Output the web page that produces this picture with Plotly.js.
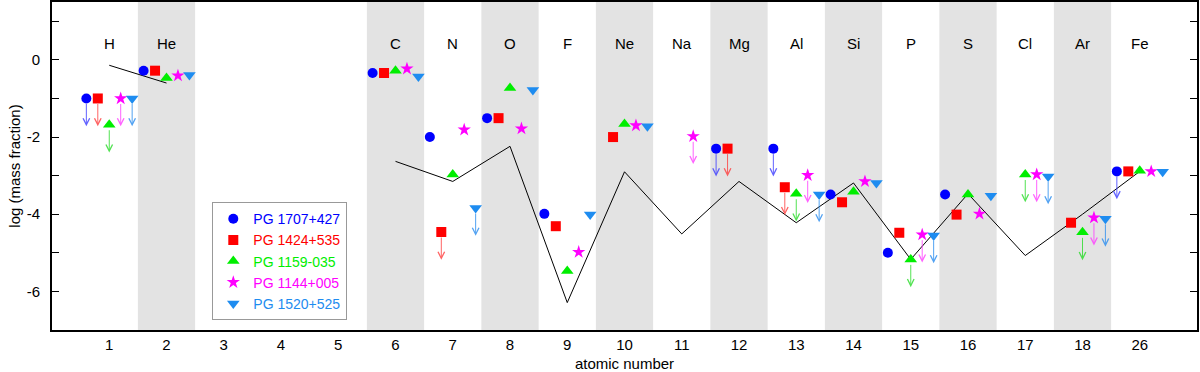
<!DOCTYPE html>
<html>
<head>
<meta charset="utf-8">
<script src="https://cdn.plot.ly/plotly-3.0.1.min.js"></script>
<style>
  body { margin: 0; background: #fff; }
  #chart { width: 1200px; height: 372px; }
</style>
</head>
<body>
<div id="chart"></div>
<script>
// Categories along the x axis
const atomicNumbers = [1, 2, 3, 4, 5, 6, 7, 8, 9, 10, 11, 12, 13, 14, 15, 16, 17, 18, 26];
const elements = ['H', 'He', '', '', '', 'C', 'N', 'O', 'F', 'Ne', 'Na', 'Mg', 'Al', 'Si', 'P', 'S', 'Cl', 'Ar', 'Fe'];
const shadedElements = ['He', 'C', 'O', 'Ne', 'Mg', 'Si', 'S', 'Ar'];

// log mass fractions, one value per category (null = not measured)
const pg1707 = [-1.0, -0.28, null, null, null, -0.34, -2.0, -1.51, -3.99, null, null, -2.3, -2.3, -3.49, -5.0, -3.49, null, null, -2.89];
const pg1424 = [-1.0, -0.28, null, null, null, -0.34, -4.46, -1.51, -4.31, -2.0, null, -2.3, -3.3, -3.69, -4.48, -4.01, null, -4.22, -2.89];
const pg1159 = [-1.68, -0.47, null, null, null, -0.28, -2.97, -0.73, -5.47, -1.66, null, null, -3.47, -3.42, -5.17, -3.49, -2.97, -4.47, -2.87];
const pg1144 = [-1.0, -0.41, null, null, null, -0.23, -1.81, -1.78, -4.98, -1.7, -1.98, null, -2.99, -3.15, -4.53, -3.99, -2.97, -4.09, -2.89];
const pg1520 = [-1.0, -0.39, null, null, null, -0.43, -3.84, -0.78, -4.01, -1.72, null, null, -3.49, -3.19, -4.55, -3.52, -3.02, -4.12, -2.9];

// elements where the value is only an upper limit
const pg1707Limits = ['H', 'Mg', 'Al', 'Fe'];
const pg1424Limits = ['H', 'N', 'Mg', 'Al'];
const pg1159Limits = ['H', 'Al', 'P', 'Cl', 'Ar'];
const pg1144Limits = ['H', 'Na', 'Al', 'P', 'Cl', 'Ar'];
const pg1520Limits = ['H', 'N', 'Al', 'P', 'Cl', 'Ar'];

// model abundances (black line)
const model = [-0.14, -0.6, null, null, null, -2.63, -3.15, -2.24, -6.29, -2.9, -4.51, -3.15, -4.22, -3.19, -5.17, -3.47, -5.07, -4.0, -2.89];

const ARROW_LEN = 0.72;
const FONT = 'Liberation Sans, Arial, Helvetica, sans-serif';
const xPos = atomicNumbers.map((z, i) => i + 1);

const series = [
    { name: 'PG 1707+427', values: pg1707, limits: pg1707Limits, symbol: 'circle', color: '#0000ff', arrow: 'rgba(60,60,255,0.8)', offset: -0.4, size: 10 },
    { name: 'PG 1424+535', values: pg1424, limits: pg1424Limits, symbol: 'square', color: '#ff0000', arrow: 'rgba(255,60,60,0.8)', offset: -0.2, size: 10 },
    { name: 'PG 1159-035', values: pg1159, limits: pg1159Limits, symbol: 'triangle-up', color: '#00ee00', arrow: 'rgba(40,220,40,0.8)', offset: 0, size: 11 },
    { name: 'PG 1144+005', values: pg1144, limits: pg1144Limits, symbol: 'star', color: '#ff00ff', arrow: 'rgba(255,60,255,0.8)', offset: 0.2, size: 10 },
    { name: 'PG 1520+525', values: pg1520, limits: pg1520Limits, symbol: 'triangle-down', color: '#1e8cf0', arrow: 'rgba(40,140,240,0.8)', offset: 0.4, size: 11 }
];

const traces = [];
const annotations = [];

// model line
traces.push({
    x: xPos,
    y: model,
    type: 'scatter',
    mode: 'lines',
    line: { color: '#000', width: 1 },
    connectgaps: false,
    showlegend: false,
    hoverinfo: 'skip'
});

series.forEach(s => {
    traces.push({
        x: xPos.map(p => p + s.offset),
        y: s.values,
        type: 'scatter',
        mode: 'markers',
        name: `<span style="color:${s.color}">${s.name}</span>`,
        marker: { symbol: s.symbol, size: s.size, color: s.color, line: { width: 0 } }
    });
    // upper limit arrows
    s.limits.forEach(el => {
        const i = elements.indexOf(el);
        const v = s.values[i];
        annotations.push({
            x: xPos[i] + s.offset, y: v - ARROW_LEN,
            ax: xPos[i] + s.offset, ay: v,
            xref: 'x', yref: 'y', axref: 'x', ayref: 'y',
            text: '', showarrow: true,
            arrowhead: 5, arrowsize: 1.3, arrowwidth: 1,
            arrowcolor: s.arrow, startstandoff: 4
        });
    });
});

// element names at the top
elements.forEach((el, i) => {
    if (!el) return;
    annotations.push({
        x: xPos[i], y: 0.905, xref: 'x', yref: 'paper',
        text: el, showarrow: false,
        font: { family: FONT, size: 15, color: '#000' }
    });
});

// grey bands
const shapes = shadedElements.map(el => {
    const p = xPos[elements.indexOf(el)];
    return {
        type: 'rect', xref: 'x', yref: 'paper',
        x0: p - 0.5, x1: p + 0.5, y0: 0, y1: 1,
        fillcolor: '#e3e3e3', line: { width: 0 }, layer: 'below'
    };
});

const layout = {
    width: 1200,
    height: 372,
    margin: { l: 52, r: 3, t: 2, b: 42 },
    paper_bgcolor: '#fff',
    plot_bgcolor: '#fff',
    font: { family: FONT, size: 14, color: '#000' },
    showlegend: true,
    legend: {
        x: 0.14, y: 0.39, xanchor: 'left', yanchor: 'top',
        bgcolor: '#fff', bordercolor: '#999', borderwidth: 1,
        font: { family: FONT, size: 14 },
        tracegroupgap: 0
    },
    xaxis: {
        range: [0, 20],
        tickvals: xPos,
        ticktext: atomicNumbers.map(String),
        ticks: '',
        showgrid: false,
        zeroline: false,
        showline: true,
        mirror: true,
        linecolor: '#000',
        linewidth: 2,
        tickfont: { size: 15 },
        title: { text: 'atomic number', font: { size: 15 }, standoff: 9 }
    },
    yaxis: {
        range: [-7, 1.5],
        tickvals: [0, -2, -4, -6],
        ticktext: ['0', '-2', '-4', '-6'],
        ticks: 'inside',
        ticklen: 7,
        tickcolor: '#000',
        ticklabelstandoff: 7,
        minor: { tickvals: [1, -1, -3, -5], ticks: 'inside', ticklen: 7, tickcolor: '#000' },
        showgrid: false,
        zeroline: false,
        showline: true,
        mirror: 'ticks',
        linecolor: '#000',
        linewidth: 2,
        tickfont: { size: 15 },
        title: { text: 'log (mass fraction)', font: { size: 15 }, standoff: 2 }
    },
    shapes: shapes,
    annotations: annotations
};

Plotly.newPlot('chart', traces, layout, { displayModeBar: false, staticPlot: true });
</script>
</body>
</html>
